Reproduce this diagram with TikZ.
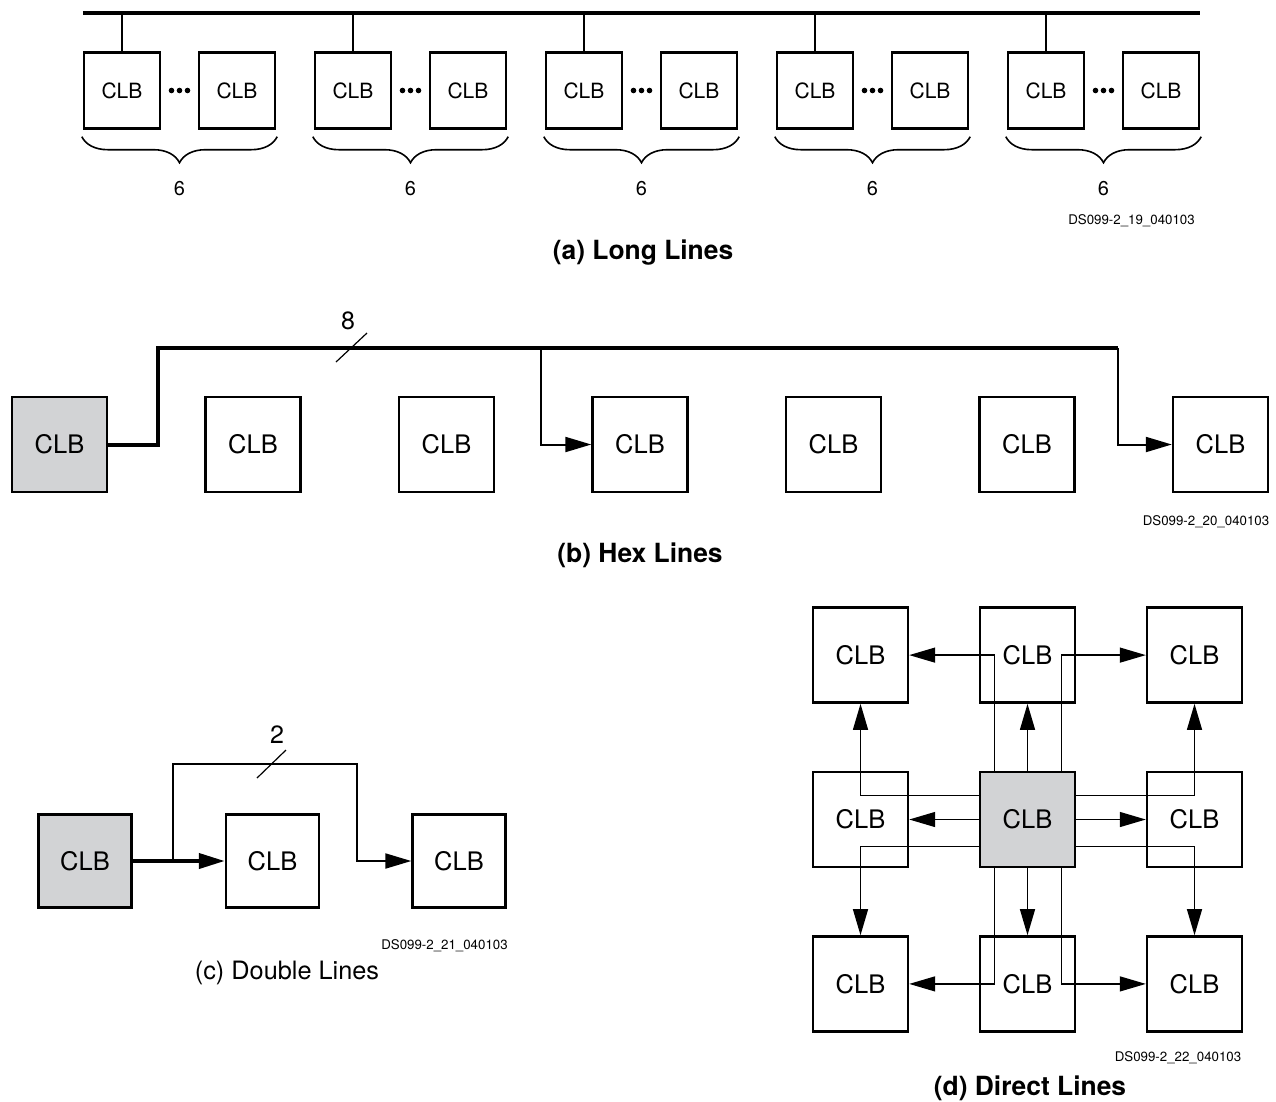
\documentclass[tikz,border=0pt]{standalone}
\usepackage{fontspec}
\setmainfont{TeX Gyre Heros}
\usetikzlibrary{arrows.meta,calc,positioning,decorations.pathreplacing}
\definecolor{clbgray}{RGB}{210,211,213}
\tikzset {
  >={Triangle[length=26pt,width=15pt]},
  clb/.style={draw,line width=2.4pt,minimum size=95pt,inner sep=0pt,
    font=\fontsize{25.5}{30}\selectfont},
  smallclb/.style={clb,minimum size=76pt,font=\fontsize{21}{25}\selectfont},
  srcclb/.style={clb,fill=clbgray},
  bus/.style={line width=4pt},
  wire/.style={line width=2pt},
  thinwire/.style={line width=1.3pt},
  tag/.style={font=\fontsize{13.3}{16}\selectfont},
  caption/.style={font=\fontsize{26.4}{32}\selectfont\bfseries},
  count/.style={font=\fontsize{25}{30}\selectfont},
}

\begin{document}
\begin{tikzpicture}[x=1pt,y=-1pt]
  \useasboundingbox (0,0) rectangle (1276,1101);
  % (a) long lines
  \foreach \i in {0,...,4}{
    \node[smallclb] (a\i l) at (122+231*\i,90.5) {CLB};
    \node[smallclb] (a\i r) at (237+231*\i,90.5) {CLB};
    \draw[line width=1.5pt] (a\i l.north) -- (a\i l.north |- 0,13);
    \foreach \d in {-8,0,8}
      \fill ($(a\i l.east)!0.5!(a\i r.west)+(\d,0)$) circle[radius=2.8pt];
    \draw[line width=1.6pt,decorate,decoration={brace,mirror,amplitude=26pt}]
      ($(a\i l.south west)+(-1,7)$) -- ($(a\i r.south east)+(1,7)$)
      node[midway,yshift=-52pt,font=\fontsize{20}{24}\selectfont] (n\i) {6};
  }
  \draw[bus] (a0l.west |- 0,13) -- (a4r.east |- 0,13);
  \node[tag] (tagA) at (1131.5,221) {DS099-2\_19\_040103};
  \node[caption] (capA) at (643,253) {(a) Long Lines};

  % (b) hex lines
  \node[srcclb] (b1) at (59.5,444.5) {CLB};
  \foreach \i in {2,...,7}
    \node[clb] (b\i) at (59.5+193.5*\i-193.5,444.5) {CLB};
  \coordinate (hexL) at (157.5,348);
  \coordinate (hexM) at (541,348);
  \coordinate (hexR) at (1118,348);
  \draw[bus] (b1.east) -| (hexL) -- (hexR);
  \draw[wire,->] (hexM) |- (b4.west);
  \draw[wire,->] (hexR) |- (b7.west);
  \draw[line width=1.2pt] (336,362) -- (367,333);
  \node[count] (hexN) at (348,321) {8};
  \node[tag] (tagB) at (1206,522) {DS099-2\_20\_040103};
  \node[caption] (capB) at (640,555) {(b) Hex Lines};

  % (c) double lines
  \node[srcclb,minimum size=93pt] (c1) at (85,861) {CLB};
  \node[clb,minimum size=93pt] (c2) at (272.5,861) {CLB};
  \node[clb,minimum size=93pt] (c3) at (459,861) {CLB};
  \draw[bus,->] (c1) -- (c2);
  \coordinate (dblS) at ($(c1.east)+(40,0)$);
  \coordinate (dblT) at (357,764);
  \draw[wire,->] (dblS) |- (dblT) |- (c3.west);
  \draw[line width=1.2pt] (257,778) -- (286,750);
  \node[count] (dblN) at (277,735) {2};
  \node[tag] (tagC) at (444.5,946) {DS099-2\_21\_040103};
  \node[font=\fontsize{25.3}{30}\selectfont] (capC) at (287,973) {(c) Double Lines};

  % (d) direct lines
  \node[srcclb] (dC) at (1027.5,819.5) {CLB};
  \node[clb,above=67pt of dC] (dN) {CLB};
  \node[clb,below=67pt of dC] (dS) {CLB};
  \node[clb,left=69.6pt of dC] (dW) {CLB};
  \node[clb,right=69.6pt of dC] (dE) {CLB};
  \node[clb,above=67pt of dW] (dNW) {CLB};
  \node[clb,above=67pt of dE] (dNE) {CLB};
  \node[clb,below=67pt of dW] (dSW) {CLB};
  \node[clb,below=67pt of dE] (dSE) {CLB};
  \draw[thinwire,->] (dC.west) -- (dW.east);
  \draw[thinwire,->] (dC.east) -- (dE.west);
  \draw[thinwire,->] (dC.north) -- (dN.south);
  \draw[thinwire,->] (dC.south) -- (dS.north);
  \draw[thinwire,->] ([xshift=-33pt]dC.north) |- (dNW.east);
  \draw[thinwire,->] ([xshift=34pt]dC.north) |- (dNE.west);
  \draw[thinwire,->] ([xshift=-33pt]dC.south) |- (dSW.east);
  \draw[thinwire,->] ([xshift=34pt]dC.south) |- (dSE.west);
  \draw[thinwire,->] ([yshift=24pt]dC.west) -| (dNW.south);
  \draw[thinwire,->] ([yshift=-27pt]dC.west) -| (dSW.north);
  \draw[thinwire,->] ([yshift=24pt]dC.east) -| (dNE.south);
  \draw[thinwire,->] ([yshift=-27pt]dC.east) -| (dSE.north);
  \node[tag] (tagD) at (1178,1058) {DS099-2\_22\_040103};
  \node[caption] (capD) at (1030,1088) {(d) Direct Lines};
\end{tikzpicture}
\end{document}
